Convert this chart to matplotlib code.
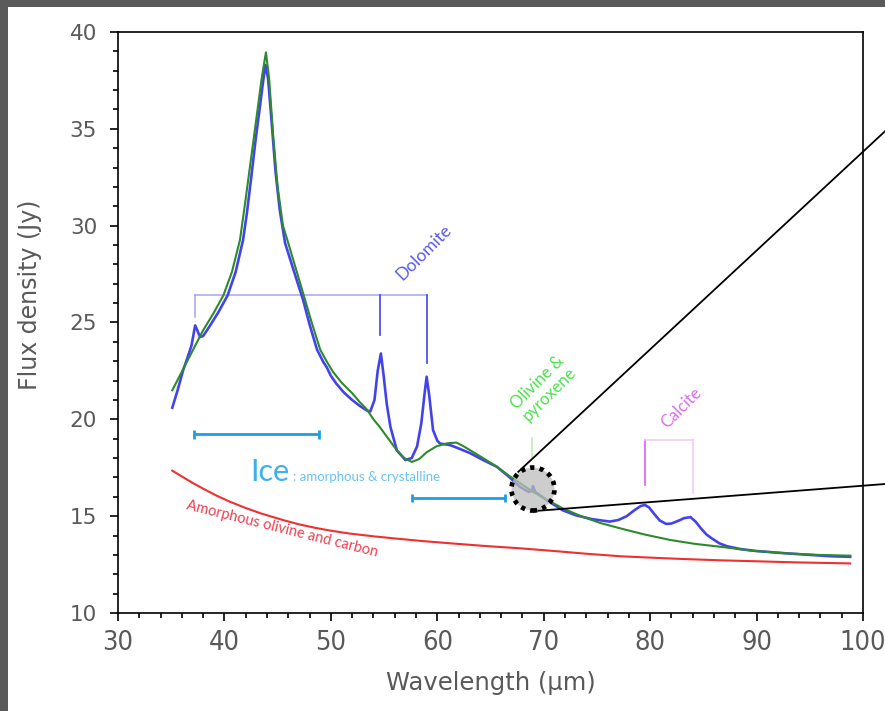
import matplotlib
matplotlib.use("Agg")
import matplotlib.pyplot as plt
from matplotlib import font_manager as fm
from matplotlib.patches import Rectangle, Ellipse
from matplotlib.ticker import MultipleLocator

# Observed far-infrared spectrum (wavelength in um, flux density in Jy)
obs_wl = [35.1, 35.6, 36.1, 36.6, 36.9, 37.1, 37.25, 37.45, 37.7, 38.0, 38.6, 39.4,
          40.3, 41.05, 41.75, 42.1, 42.5, 42.9, 43.3, 43.6, 43.85, 44.1, 44.4,
          44.8, 45.2, 45.7, 46.5, 47.4, 48.0, 48.7, 49.3, 49.6, 50.0, 50.5,
          51.2, 52.0, 52.7, 53.4, 53.7, 54.1, 54.4, 54.7, 54.95, 55.25, 55.6, 56.2,
          57.0, 57.6, 58.1, 58.5, 58.8, 59.0, 59.25, 59.6, 60.0, 60.25, 61.2, 62.0,
          63.1, 64.3, 65.6, 66.7, 67.8, 68.6, 68.85, 69.0, 69.2, 70.5, 71.8, 73.0,
          74.5, 76.2, 77.0, 77.8, 78.5, 79.1, 79.5, 79.9, 80.4, 80.9, 81.5, 82.0,
          82.6, 83.2, 83.8, 84.3, 84.8, 85.3, 85.8, 86.5, 87.2, 88.5, 90.0, 92.8,
          95.0, 97.0, 98.8]
obs_flux = [20.6, 21.5, 22.5, 23.3, 23.8, 24.4, 24.85, 24.6, 24.25, 24.3, 24.8, 25.5,
            26.4, 27.6, 29.26, 30.6, 32.4, 34.3, 36.0, 37.3, 38.3, 37.6, 35.6,
            32.8, 30.8, 29.1, 27.7, 26.15, 24.9, 23.6, 22.95, 22.7, 22.25, 21.85,
            21.4, 21.0, 20.7, 20.45, 20.4, 21.0, 22.5, 23.4, 22.3, 20.8, 19.6, 18.4,
            17.9, 18.0, 18.6, 19.8, 21.3, 22.2, 21.2, 19.45, 18.9, 18.75, 18.67, 18.5,
            18.25, 17.9, 17.55, 17.05, 16.5, 16.25, 16.3, 16.55, 16.25, 15.75, 15.3, 15.05,
            14.85, 14.72, 14.8, 15.0, 15.3, 15.52, 15.58, 15.45, 15.1, 14.78, 14.6, 14.62,
            14.75, 14.9, 14.95, 14.7, 14.35, 14.05, 13.85, 13.6, 13.45, 13.3, 13.2, 13.08,
            13.0, 12.93, 12.9]

# Best-fit model spectrum
model_wl = [35.1, 36.5, 38.0, 39.0, 39.9, 40.7, 41.46, 42.0, 42.8, 43.5, 43.9, 44.2,
            44.6, 45.0, 45.5, 46.0, 46.7, 47.4, 48.2, 49.0, 49.6,
            50.2, 51.0, 52.0, 52.7, 53.4, 54.0, 54.6, 55.4, 56.2, 56.9, 57.6, 58.3,
            59.0, 59.9, 60.9, 61.8, 62.5, 63.1, 64.3, 65.6, 66.7, 67.8, 69.0, 70.3,
            71.8, 73.5, 75.3, 77.2, 79.5, 81.9, 84.2, 86.6, 89.5, 92.8, 95.8, 98.8]
model_flux = [21.5, 23.0, 24.6, 25.5, 26.4, 27.6, 29.26, 31.4, 34.7, 37.6, 38.95, 37.6,
              34.5, 32.0, 30.0, 29.1, 27.8, 26.5, 25.0, 23.6, 23.0,
              22.45, 21.9, 21.35, 20.9, 20.5, 20.0, 19.6, 19.0, 18.4, 18.0, 17.8, 17.95,
              18.3, 18.6, 18.76, 18.8, 18.6, 18.4, 18.0, 17.55, 17.1, 16.7, 16.25, 15.85,
              15.4, 15.0, 14.65, 14.37, 14.05, 13.77, 13.57, 13.42, 13.22, 13.08, 13.0, 12.96]

# Continuum from amorphous olivine and carbon
cont_wl = [35.1, 36.0, 37.0, 38.0, 39.3, 40.5, 42.0, 43.5, 45.5, 47.0, 48.5, 50.0,
           51.8, 54.0, 56.0, 58.5, 61.2, 64.5, 67.8, 71.0, 74.0, 77.2, 80.0, 83.0,
           86.6, 90.0, 94.0, 98.8]
cont_flux = [17.35, 17.05, 16.72, 16.42, 16.05, 15.75, 15.42, 15.13, 14.8, 14.58, 14.4, 14.25,
             14.1, 13.96, 13.85, 13.72, 13.6, 13.46, 13.34, 13.2, 13.06, 12.93, 12.86, 12.79,
             12.72, 12.67, 12.61, 12.56]

# Feature markers
dolomite_peaks = [37.25, 54.6, 59.0]
dolomite_tips = [25.3, 24.35, 22.9]
dolomite_level = 26.4
ice_ranges = [(37.1, 48.9, 19.22), (57.65, 66.36, 15.95)]
olivine_mark = (68.92, 18.0, 19.03)
calcite_peaks = [79.52, 84.0]
calcite_tips = [16.61, 16.18]
calcite_level = 18.93

xticks = [30, 40, 50, 60, 70, 80, 90, 100]
yticks = [10, 15, 20, 25, 30, 35, 40]


def narrow_family():
    """Return an installed condensed sans family, if there is one."""
    for f in fm.fontManager.ttflist:
        name = f.name.lower()
        if ("sans" in name) and (f.stretch in ("condensed", "semi-condensed")
                                 or "narrow" in name or "condensed" in name):
            return f.name, f.stretch
    return None, None


fig = plt.figure(figsize=(8.85, 7.11), dpi=100)
fig.patch.set_facecolor("white")
# dark frame strips along the top and left edge
fig.patches.append(Rectangle((0, 1 - 7 / 711), 1, 7 / 711, transform=fig.transFigure,
                             facecolor="#5a5a5a", edgecolor="none", zorder=0))
fig.patches.append(Rectangle((0, 0), 8 / 885, 1, transform=fig.transFigure,
                             facecolor="#5a5a5a", edgecolor="none", zorder=0))

ax = fig.add_axes([118 / 885, 1 - 613 / 711, (863 - 118) / 885, (613 - 32) / 711])
ax.set_xlim(30, 100)
ax.set_ylim(10, 40)

blue = "#4343ee"
green = "#2e8a2e"
red = "#ee3030"

ax.plot(obs_wl, obs_flux, color=blue, lw=1.9, zorder=3, solid_joinstyle="round")
ax.plot(model_wl, model_flux, color=green, lw=1.5, zorder=4, solid_joinstyle="round")
ax.plot(cont_wl, cont_flux, color=red, lw=1.5, zorder=3, solid_joinstyle="round")

# Dolomite bracket
light_blue = "#a4a4f2"
ax.plot([dolomite_peaks[0], dolomite_peaks[-1]], [dolomite_level] * 2, color=light_blue, lw=1.1)
ax.plot([dolomite_peaks[0]] * 2, [dolomite_level, dolomite_tips[0]], color=light_blue, lw=1.1)
for xp, tip in zip(dolomite_peaks[1:], dolomite_tips[1:]):
    ax.plot([xp, xp], [dolomite_level, tip], color="#5252ee", lw=1.3)
ax.text(58.75, 28.6, "Dolomite", rotation=45, color="#5a5aee", fontsize=12.5,
        family="Lato", ha="center", va="center")

# Ice ranges
ice_col = "#1f9de6"
for x0, x1, yv in ice_ranges:
    ax.plot([x0, x1], [yv, yv], color=ice_col, lw=2.0, solid_capstyle="butt")
    for xe in (x0, x1):
        ax.plot([xe, xe], [yv - 0.22, yv + 0.22], color=ice_col, lw=2.0, solid_capstyle="butt")
ax.text(42.45, 16.83, "Ice", color="#3fb0ee", fontsize=22, family="Lato",
        ha="left", va="baseline")
ax.text(46.45, 16.83, ": amorphous & crystalline", color="#6cc2f0", fontsize=9.5,
        family="Lato", ha="left", va="baseline")

# Olivine & pyroxene marker
ax.plot([olivine_mark[0]] * 2, olivine_mark[1:], color="#b4eeb4", lw=1.1)
ax.text(70.0, 21.6, "Olivine &\npyroxene", rotation=45, color="#4ee04e", fontsize=12,
        family="Lato", ha="center", va="center", linespacing=1.05)

# Calcite bracket
ax.plot([calcite_peaks[0]] * 2, [calcite_level, calcite_tips[0]], color="#dd6eee", lw=1.3)
ax.plot(calcite_peaks, [calcite_level] * 2, color="#f0c6f6", lw=1.1)
ax.plot([calcite_peaks[1]] * 2, [calcite_level, calcite_tips[1]], color="#f0c6f6", lw=1.1)
ax.text(82.9, 20.6, "Calcite", rotation=45, color="#dc6ef0", fontsize=12,
        family="Lato", ha="center", va="center")

# Continuum label
ax.text(45.46, 14.34, "Amorphous olivine and carbon", rotation=-14, color="#ee4050",
        fontsize=10.5, family="Lato", ha="center", va="center")

# Zoom-in marker with guide lines
ax.add_patch(Ellipse((68.99, 16.40), 2 * 21.5 / 10.643, 2 * 21.5 / 19.37,
                     facecolor=(0.74, 0.74, 0.74, 0.75), edgecolor="black", lw=3.4,
                     linestyle=(0, (0.9, 1.1)), zorder=5))
ax.plot([67.61, 103.0], [17.29, 35.35], color="black", lw=1.3, clip_on=False, zorder=6)
ax.plot([69.49, 103.0], [15.28, 16.70], color="black", lw=1.3, clip_on=False, zorder=6)

# Axes styling
for s in ax.spines.values():
    s.set_color("black")
    s.set_linewidth(1.2)
ax.set_xticks(xticks)
ax.set_yticks(yticks)
ax.xaxis.set_minor_locator(MultipleLocator(2))
ax.yaxis.set_minor_locator(MultipleLocator(1))
ax.tick_params(which="major", direction="out", length=6, width=1.2, color="black")
ax.tick_params(which="minor", direction="out", length=3.6, width=1.2, color="black")
ax.tick_params(axis="x", which="major", pad=6, labelcolor="#595959")
ax.tick_params(axis="y", which="major", pad=9, labelcolor="#595959", labelsize=15.5)

narrow, narrow_stretch = narrow_family()
for lab in ax.get_xticklabels():
    if narrow:
        lab.set_family([narrow, "DejaVu Sans"])
        lab.set_stretch(narrow_stretch)
        lab.set_fontsize(19.5)
    else:
        lab.set_family(["Roboto", "DejaVu Sans"])
        lab.set_fontsize(18)

ax.set_xlabel("Wavelength (\u00b5m)", fontsize=17.5, color="#595959", labelpad=11)
ax.set_ylabel("Flux density (Jy)", fontsize=17, color="#595959")
ax.yaxis.set_label_coords(-0.102, 0.547)

fig.savefig("out.png", dpi=100)
